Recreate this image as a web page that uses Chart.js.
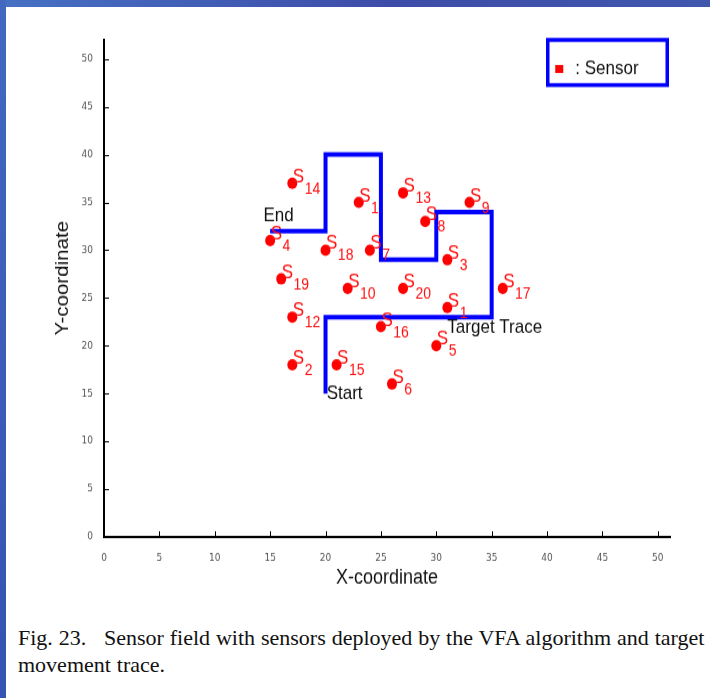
<!DOCTYPE html>
<html>
<head>
<meta charset="utf-8">
<script src="https://cdn.jsdelivr.net/npm/chart.js"></script>
<style>
  body { margin:0; width:710px; height:698px; background:#fff; position:relative; overflow:hidden; }
  #topBand { position:absolute; left:0; top:0; width:710px; height:7px; z-index:2;
    background:linear-gradient(to right,#4671c4 0%,#3d4ca8 55%,#4057ae 100%); }
  #leftBand { position:absolute; left:0; top:0; width:6px; height:698px; z-index:3;
    background:linear-gradient(to bottom,#4268c0,#3553b2); }
  /* the original picture is a bit stretched vertically, so draw flat and stretch */
  #plot { position:absolute; left:0; top:0; width:710px; height:527px; transform:scaleY(1.14); transform-origin:0 0; }
  #caption { position:absolute; left:18px; top:624px; font-family:"Liberation Serif","Times New Roman",serif;
    font-size:22px; line-height:27px; color:#111; white-space:nowrap; word-spacing:0.4px; }
</style>
</head>
<body>
<div id="topBand"></div>
<div id="leftBand"></div>
<div id="plot"><canvas id="sensorChart" width="710" height="527"></canvas></div>
<div id="caption">Fig. 23.&nbsp;&nbsp; Sensor field with sensors deployed by the VFA algorithm and target<br>movement trace.</div>

<script>
// sensors deployed by VFA (id, x, y)
const sensorIds = ['14','1','13','9','8','4','18','7','3','19','10','20','17','1','12','16','5','2','15','6'];
const sensorX = [17, 23, 27, 33, 29, 15, 20, 24, 31, 16, 22, 27, 36, 31, 17, 25, 30, 17, 21, 26];
const sensorY = [37, 35, 36, 35, 33, 31, 30, 30, 29, 27, 26, 26, 26, 24, 23, 22, 20, 18, 18, 16];

// target movement trace, start -> end
const traceX = [20, 20, 35, 35, 30, 30, 25, 25, 20, 20, 15];
const traceY = [15, 23, 23, 34, 34, 29, 29, 40, 40, 32, 32];

// text notes on the plot
const noteText = ['End', 'Start', 'Target Trace'];
const noteX = [14.4, 20.1, 31.0];
const noteY = [33.6, 15.0, 21.9];

// tick values on both axes
const xTicks = [0, 5, 10, 15, 20, 25, 30, 35, 40, 45, 50];
const yTicks = [0, 5, 10, 15, 20, 25, 30, 35, 40, 45, 50];

const ctx = document.getElementById('sensorChart');

// matlab style ticks that point into the plot
const inwardTicks = {
  id: 'inwardTicks',
  afterDraw(chart) {
    const {ctx, chartArea, scales} = chart;
    ctx.save();
    ctx.strokeStyle = '#000';
    ctx.lineWidth = 1;
    ctx.beginPath();
    scales.x.ticks.forEach(t => {
      const px = Math.round(scales.x.getPixelForValue(t.value)) + 0.5;
      ctx.moveTo(px, chartArea.bottom);
      ctx.lineTo(px, chartArea.bottom - 5);
    });
    scales.y.ticks.forEach(t => {
      const py = Math.round(scales.y.getPixelForValue(t.value)) + 0.5;
      ctx.moveTo(chartArea.left, py);
      ctx.lineTo(chartArea.left + 5, py);
    });
    ctx.stroke();
    ctx.restore();
  }
};

// y axis title, sits a little above the middle in the original
const yTitle = {
  id: 'yTitle',
  afterDraw(chart) {
    const c = chart.ctx;
    const {top, bottom} = chart.chartArea;
    c.save();
    c.translate(63, (top + bottom) / 2 - 9);
    c.rotate(-Math.PI / 2);
    c.fillStyle = '#111';
    c.font = '18px "Liberation Sans", Arial, sans-serif';
    c.textAlign = 'center';
    c.textBaseline = 'middle';
    c.fillText('Y-coordinate', 0, 0);
    c.restore();
  }
};

// S with a subscript number next to every sensor dot
const sensorLabels = {
  id: 'sensorLabels',
  afterDatasetsDraw(chart) {
    const c = chart.ctx;
    const meta = chart.getDatasetMeta(1);
    c.save();
    c.fillStyle = '#ff1010';
    c.textAlign = 'left';
    c.textBaseline = 'alphabetic';
    meta.data.forEach((pt, i) => {
      c.font = '17px "Liberation Sans", Arial, sans-serif';
      c.fillText('S', pt.x + 0.5, pt.y - 1);
      const w = c.measureText('S').width;
      c.font = '14px "Liberation Sans", Arial, sans-serif';
      c.fillText(sensorIds[i], pt.x + 1 + w, pt.y + 9);
    });
    c.restore();
  }
};

// End / Start / Target Trace
const traceNotes = {
  id: 'traceNotes',
  afterDatasetsDraw(chart) {
    const c = chart.ctx;
    const {x, y} = chart.scales;
    c.save();
    c.fillStyle = '#111';
    c.font = '17px "Liberation Sans", Arial, sans-serif';
    c.textAlign = 'left';
    c.textBaseline = 'middle';
    noteText.forEach((t, i) => {
      c.fillText(t, x.getPixelForValue(noteX[i]), y.getPixelForValue(noteY[i]));
    });
    c.restore();
  }
};

// boxed legend in the top right corner
const boxLegend = {
  id: 'boxLegend',
  afterDraw(chart) {
    const c = chart.ctx;
    const {right, top} = chart.chartArea;
    const bx = right - 122.25, by = top, bw = 119.5, bh = 39.6;
    c.save();
    c.strokeStyle = '#0000ff';
    c.lineWidth = 3.5;
    c.strokeRect(bx, by, bw, bh);
    c.fillStyle = '#ff0000';
    c.fillRect(bx + 7.5, by + 22, 8, 7);
    c.fillStyle = '#111';
    c.font = '17px "Liberation Sans", Arial, sans-serif';
    c.textBaseline = 'middle';
    c.fillText(': ' + chart.data.datasets[1].label, bx + 27.5, by + 25.5);
    c.restore();
  }
};

new Chart(ctx, {
  type: 'scatter',
  data: {
    datasets: [{
      label: 'Target Trace',
      data: traceX.map((v, i) => ({x: v, y: traceY[i]})),
      showLine: true,
      borderColor: '#0000ff',
      backgroundColor: '#0000ff',
      borderWidth: 4,
      borderJoinStyle: 'miter',
      pointRadius: 0,
      order: 0
    }, {
      label: 'Sensor',
      data: sensorX.map((v, i) => ({x: v, y: sensorY[i]})),
      backgroundColor: '#ff0000',
      borderColor: '#ff0000',
      borderWidth: 0,
      pointRadius: 5,
      order: 1
    }]
  },
  options: {
    responsive: false,
    animation: false,
    layout: {padding: {top: 35, right: 40, left: 0, bottom: 0}},
    plugins: {
      legend: {display: false},
      tooltip: {enabled: false}
    },
    scales: {
      x: {
        type: 'linear',
        min: 0,
        max: 51.1,
        grid: {display: false},
        border: {display: true, color: '#000', width: 2},
        afterFit(scale) { scale.height = 56; },
        afterBuildTicks(scale) { scale.ticks = xTicks.map(v => ({value: v})); },
        ticks: {padding: 5, maxRotation: 0, autoSkip: false, color: '#555',
          font: {family: 'DejaVu Sans', size: 9}},
        title: {display: true, text: 'X-coordinate', color: '#111',
          font: {family: 'Liberation Sans', size: 18}, padding: {top: 0, bottom: 9}}
      },
      y: {
        type: 'linear',
        min: 0,
        max: 52,
        grid: {display: false},
        border: {display: true, color: '#000', width: 2},
        afterFit(scale) { scale.width = 104; },
        afterBuildTicks(scale) { scale.ticks = yTicks.map(v => ({value: v})); },
        ticks: {padding: 3, autoSkip: false, color: '#555',
          font: {family: 'DejaVu Sans', size: 9}},
        title: {display: false}
      }
    }
  },
  plugins: [inwardTicks, yTitle, sensorLabels, traceNotes, boxLegend]
});
</script>
</body>
</html>
